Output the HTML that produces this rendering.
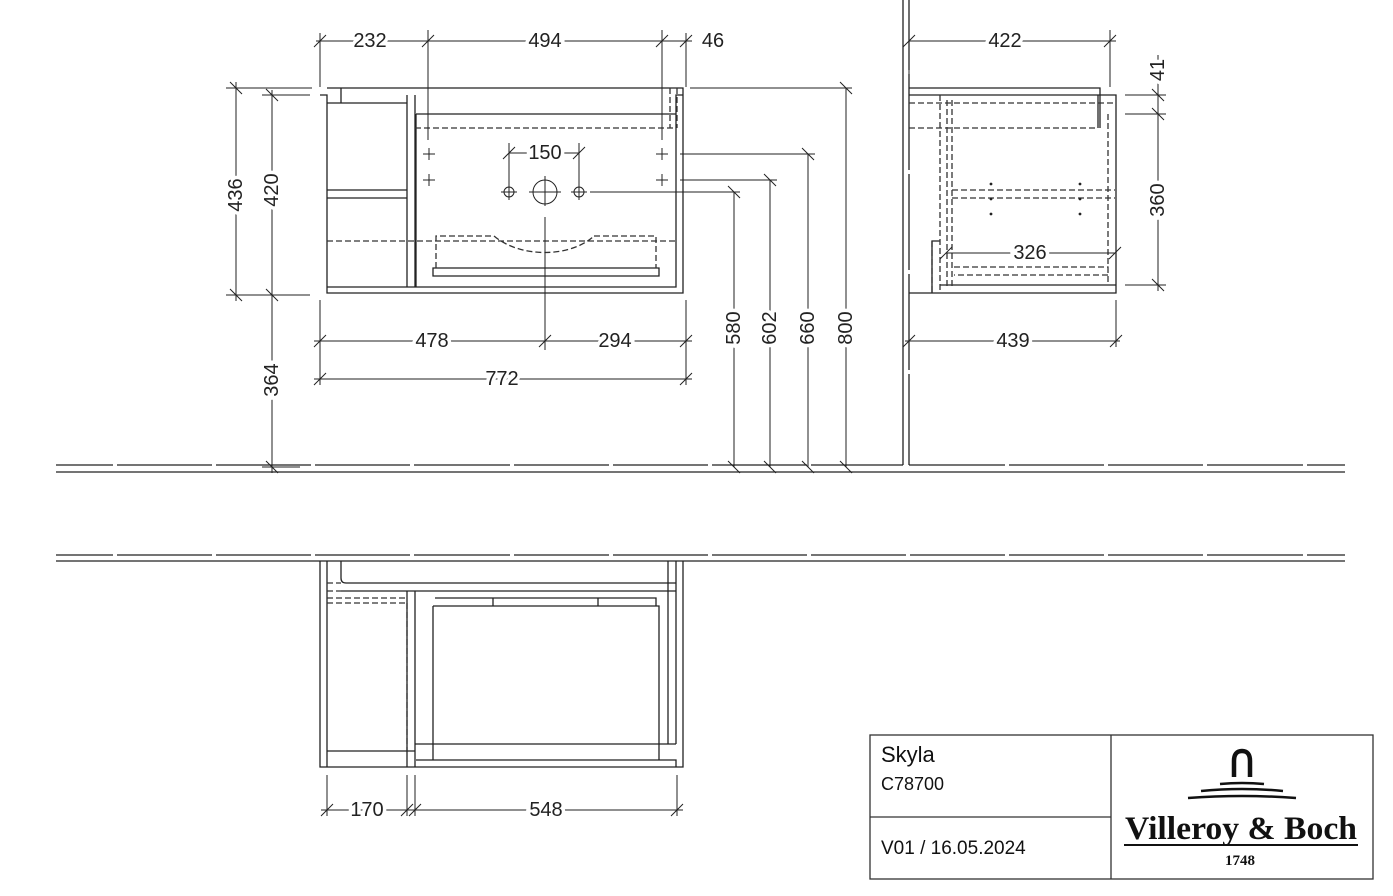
<!DOCTYPE html>
<html><head><meta charset="utf-8"><style>
html,body{margin:0;padding:0;background:#fff}
svg{display:block}
.l{stroke:#222;stroke-width:1.3;fill:none}
.t{stroke:#222;stroke-width:1;fill:none}
.d{stroke:#333;stroke-width:1.3;fill:none;stroke-dasharray:6 3}
.tx{font-family:"Liberation Sans Narrow","Liberation Sans",sans-serif;font-size:20px;fill:#222;stroke:#fff;stroke-width:7;paint-order:stroke;text-anchor:middle;dominant-baseline:central}
</style></head><body>
<svg width="1393" height="896" viewBox="0 0 1393 896" xmlns="http://www.w3.org/2000/svg">
<g class="l">
<path d="M56 465H113M117 465H212M216 465H311M315 465H410M414 465H510M514 465H609M613 465H708M712 465H807M811 465H903M909 465H1005M1009 465H1104M1108 465H1203M1207 465H1303M1307 465H1345"/>
<path d="M56 472H1345"/>
<path d="M56 555H113M117 555H212M216 555H311M315 555H410M414 555H510M514 555H609M613 555H708M712 555H807M811 555H906M910 555H1005M1009 555H1104M1108 555H1203M1207 555H1303M1307 555H1345"/>
<path d="M56 561H1345"/>
<path d="M903 0V465M909 0V70M909 74V170M909 174V270M909 274V370M909 374V465"/>
</g>
<g class="l">
<path d="M327 88H683V95M320 95H327V293H683V95H676V287H327M327 95V287"/>
<path d="M327 103H407M341 88V103M407 95V287M415 95V287M327 190H407M327 198H407"/>
<path d="M416 114H676M416 114V287"/>
<path d="M433 268H659V276H433Z"/>
</g>
<g class="d">
<path d="M415 128H676M327 241H676M670 88V128M677 88V128"/>
<path d="M436 268V236H494M594 236H656V268"/>
<path d="M494 236C520 258 570 258 594 236"/>
</g>
<g class="t">
<path d="M423 154H435M429 148V160M423 180H435M429 174V186M656 154H668M662 148V160M656 180H668M662 174V186"/>
<circle cx="509" cy="192" r="5"/><circle cx="579" cy="192" r="5"/><circle cx="545" cy="192" r="12"/>
<path d="M501 192H517M509 184V200M571 192H587M579 184V200M529 192H561M545 176V206M545 217V350"/>
<path d="M509 143V185M579 143V185M509 153H579M503 159L515 147M573 159L585 147"/>
<path d="M690 88H852M680 154H815M680 180H777M590 192H740"/>
<path d="M734 192V467M770 180V467M808 154V467M846 88V467"/>
<path d="M728 186L740 198M764 174L776 186M802 148L814 160M840 82L852 94M728 461L740 473M764 461L776 473M802 461L814 473M840 461L852 473"/>
<path d="M320 33V87M428 30V140M662 30V140M686 33V87M316 41H692"/>
<path d="M314 47L326 35M422 47L434 35M656 47L668 35M680 47L692 35"/>
<path d="M226 88H312M262 95H310M226 295H310M262 467H300"/>
<path d="M236 82V301M272 90V473"/>
<path d="M230 82L242 94M266 89L278 101M230 289L242 301M266 289L278 301M266 461L278 473"/>
<path d="M320 300V385M545 300V350M686 300V385M314 341H692M314 379H692"/>
<path d="M314 347L326 335M539 347L551 335M680 347L692 335M314 385L326 373M680 385L692 373"/>
</g>
<text class="tx" x="370" y="41">232</text>
<text class="tx" x="545" y="41">494</text>
<text class="tx" x="713" y="41">46</text>
<text class="tx" x="545" y="153">150</text>
<text class="tx" x="432" y="341">478</text>
<text class="tx" x="615" y="341">294</text>
<text class="tx" x="502" y="379">772</text>
<text class="tx" transform="translate(236 195) rotate(-90)">436</text>
<text class="tx" transform="translate(272 190) rotate(-90)">420</text>
<text class="tx" transform="translate(272 380) rotate(-90)">364</text>
<text class="tx" transform="translate(734 328) rotate(-90)">580</text>
<text class="tx" transform="translate(770 328) rotate(-90)">602</text>
<text class="tx" transform="translate(808 328) rotate(-90)">660</text>
<text class="tx" transform="translate(846 328) rotate(-90)">800</text>
<g class="l">
<path d="M909 88H1100V128M909 95H1116V293H909M932 293V241H940M1098 128V95"/>
<path d="M940 285H1116"/>
</g>
<g class="d">
<path d="M909 103H1116M909 128H1098M940 95V293M947 100V288M952 100V288M952 190H1115M952 198H1115M954 267H1108V275H954M1108 114V285M932 241V293"/>
</g>
<g fill="#222"><circle cx="991" cy="184" r="1.4"/><circle cx="991" cy="199" r="1.4"/><circle cx="991" cy="214" r="1.4"/><circle cx="1080" cy="184" r="1.4"/><circle cx="1080" cy="199" r="1.4"/><circle cx="1080" cy="214" r="1.4"/></g>
<g class="t">
<path d="M909 33V87M1110 30V87M909 41H1116M903 47L915 35M1104 47L1116 35"/>
<path d="M946 253H1115M940 259L952 247M1109 259L1121 247"/>
<path d="M1125 95H1166M1125 114H1166M1125 285H1166M1158 55V291"/>
<path d="M1152 89L1164 101M1152 108L1164 120M1152 279L1164 291"/>
<path d="M909 300V347M1116 300V347M905 341H1120M903 347L915 335M1110 347L1122 335"/>
</g>
<text class="tx" x="1005" y="41">422</text>
<text class="tx" x="1030" y="253">326</text>
<text class="tx" x="1013" y="341">439</text>
<text class="tx" transform="translate(1158 70) rotate(-90)">41</text>
<text class="tx" transform="translate(1158 200) rotate(-90)">360</text>
<g class="l">
<path d="M320 561V767H683V561M327 561V767M676 561V744M668 561V744"/>
<path d="M341 561V578Q341 583 346 583H676M341 591H676M407 591V767M415 591V767"/>
<path d="M433 606H659V760M433 606V760M435 598H656V606M493 598V606M598 598V606"/>
<path d="M415 744H676M327 751H415M416 760H676V767"/>
</g>
<g class="d"><path d="M327 583H341M327 591H341M327 598H407M327 603H407M407 603V750"/></g>
<g class="t">
<path d="M327 775V816M407 775V816M415 775V816M677 775V816M321 810H683"/>
<path d="M321 816L333 804M401 816L413 804M409 816L421 804M671 816L683 804"/>
</g>
<text class="tx" x="367" y="810">170</text>
<text class="tx" x="546" y="810">548</text>
<g class="t" style="stroke:#333;stroke-width:1.3">
<rect x="870" y="735" width="503" height="144"/>
<path d="M1111 735V879M870 817H1111"/>
</g>
<g font-family="Liberation Sans, Arial, sans-serif" fill="#111">
<text x="881" y="762" font-size="22">Skyla</text>
<text x="881" y="790" font-size="18">C78700</text>
<text x="881" y="854" font-size="19">V01 /  16.05.2024</text>
</g>
<g stroke="#111" fill="none">
<path d="M1234 777V761Q1234 751 1242 751Q1250 751 1250 761V777" stroke-width="4.5"/>
<path d="M1220 784Q1242 782 1264 784" stroke-width="2.5"/>
<path d="M1201 791Q1242 787 1283 791" stroke-width="2.5"/>
<path d="M1188 798Q1242 794 1296 798" stroke-width="2.5"/>
<path d="M1124 845H1358" stroke-width="2"/>
</g>
<text x="1241" y="839" text-anchor="middle" font-family="Liberation Serif, serif" font-weight="bold" font-size="33" fill="#111" textLength="232" lengthAdjust="spacingAndGlyphs">Villeroy &amp; Boch</text>
<text x="1240" y="865" text-anchor="middle" font-family="Liberation Serif, serif" font-weight="bold" font-size="15" fill="#111">1748</text>
</svg>
</body></html>
